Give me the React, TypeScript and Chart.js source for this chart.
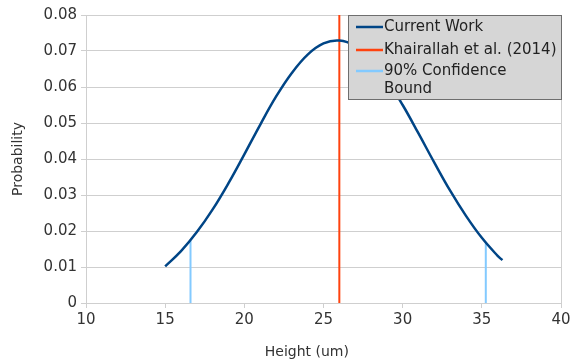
import React, { useEffect, useRef } from "react";
import { Chart, registerables } from "chart.js";

Chart.register(...registerables);

const curveX = [15, 16, 17, 18, 19, 20, 21, 22, 23, 24, 25, 26, 27, 28, 29, 30, 31, 32, 33, 34, 35, 36, 36.3];
const curveY = [0.0102, 0.0144, 0.0197, 0.026, 0.0333, 0.0413, 0.0495, 0.0573, 0.0639, 0.069, 0.0721, 0.0729, 0.0714, 0.0677, 0.062, 0.055, 0.0471, 0.039, 0.0312, 0.0242, 0.0181, 0.0131, 0.0119];
const refX = [26.0, 26.0];
const refY = [0, 0.08];
const boundX = [16.6, 16.6, 35.25, 35.25];
const boundY = [0, 0.0172, 0, 0.0166];
const seriesLabels = ["Current Work", "Khairallah et al. (2014)", "90% Confidence Bound"];
const legendLines = [["Current Work"], ["Khairallah et al. (2014)"], ["90% Confidence", "Bound"]];
const xTicks = [10, 15, 20, 25, 30, 35, 40];
const yTickLabels = ["0", "0.01", "0.02", "0.03", "0.04", "0.05", "0.06", "0.07", "0.08"];
const xTitle = "Height (um)";
const yTitle = "Probability";

const BLUE = "#004586";
const RED = "#ff420e";
const LIGHT = "#83caff";
const GRID = "#cfcfcf";
const TEXT = "#333333";

const legendPlugin = {
  id: "insetLegend",
  afterDatasetsDraw(chart: any) {
    const { ctx, chartArea } = chart;
    const x0 = chartArea.right - 213;
    const y0 = chartArea.top;
    const w = 214;
    const h = 85;
    ctx.save();
    ctx.fillStyle = "#d6d6d6";
    ctx.fillRect(x0, y0, w, h);
    ctx.strokeStyle = "#6e6e6e";
    ctx.lineWidth = 1;
    ctx.strokeRect(x0 + 0.5, y0 + 0.5, w - 1, h - 1);
    ctx.font = "15px 'DejaVu Sans'";
    ctx.textBaseline = "middle";
    ctx.textAlign = "left";
    const rows = [12, 35, 56];
    chart.data.datasets.forEach((ds: any, i: number) => {
      const ry = y0 + rows[i];
      ctx.strokeStyle = ds.borderColor;
      ctx.lineWidth = 2.5;
      ctx.beginPath();
      ctx.moveTo(x0 + 8, ry);
      ctx.lineTo(x0 + 35, ry);
      ctx.stroke();
      ctx.fillStyle = "#222222";
      legendLines[i].forEach((t, j) => {
        ctx.fillText(t, x0 + 36, ry + j * 18);
      });
    });
    // x axis title, placed as in the original (slightly left of centre)
    ctx.fillStyle = TEXT;
    ctx.font = "14px 'DejaVu Sans'";
    ctx.textAlign = "center";
    ctx.textBaseline = "middle";
    const cx = chartArea.left + (chartArea.right - chartArea.left) * 0.465;
    ctx.fillText(xTitle, cx, 352);
    ctx.restore();
  },
};

export default function App() {
  const ref = useRef<HTMLCanvasElement>(null);
  useEffect(() => {
    if (!ref.current) return;
    Chart.defaults.font.family = "'DejaVu Sans'";
    const curve = curveX.map((x, i) => ({ x, y: curveY[i] }));
    const refLine = refX.map((x, i) => ({ x, y: refY[i] }));
    const bounds: any[] = [
      { x: boundX[0], y: boundY[0] },
      { x: boundX[1], y: boundY[1] },
      { x: (boundX[1] + boundX[2]) / 2, y: null },
      { x: boundX[2], y: boundY[2] },
      { x: boundX[3], y: boundY[3] },
    ];
    const chart = new Chart(ref.current, {
      type: "line",
      data: {
        datasets: [
          { label: seriesLabels[0], data: curve, borderColor: BLUE, borderWidth: 2.5, pointRadius: 0, tension: 0.4, fill: false },
          { label: seriesLabels[1], data: refLine, borderColor: RED, borderWidth: 2, pointRadius: 0, fill: false },
          { label: seriesLabels[2], data: bounds, borderColor: LIGHT, borderWidth: 2, pointRadius: 0, spanGaps: false, fill: false },
        ],
      },
      options: {
        animation: false,
        responsive: false,
        layout: { padding: { top: 15, right: 10, left: 0, bottom: 0 } },
        plugins: { legend: { display: false }, tooltip: { enabled: false } },
        scales: {
          x: {
            type: "linear",
            min: 10,
            max: 40,
            afterBuildTicks: (s: any) => {
              s.ticks = xTicks.map((v) => ({ value: v }));
            },
            afterFit: (s: any) => {
              s.height = 61;
              s.paddingRight = 0;
              s.paddingLeft = 0;
            },
            ticks: { color: TEXT, font: { size: 15 }, padding: 3, maxRotation: 0, callback: (v: any) => String(v) },
            grid: {
              color: (c: any) => (c.tick && c.tick.value === 40 ? GRID : "rgba(0,0,0,0)"),
              tickColor: GRID,
              tickLength: 5,
            },
            border: { color: GRID },
            title: { display: false, text: xTitle },
          },
          y: {
            min: 0,
            max: 0.08,
            afterBuildTicks: (s: any) => {
              s.ticks = yTickLabels.map((_, i) => ({ value: i * 0.01 }));
            },
            afterFit: (s: any) => {
              s.width = 86;
              s.paddingTop = 0;
              s.paddingBottom = 0;
            },
            ticks: { color: TEXT, font: { size: 15 }, padding: 4, callback: (_v: any, i: number) => yTickLabels[i] },
            grid: { color: GRID, tickColor: GRID, tickLength: 5 },
            border: { color: GRID },
            title: { display: true, text: yTitle, color: TEXT, font: { size: 14 }, padding: { top: 10, bottom: 0 } },
          },
        },
      },
      plugins: [legendPlugin],
    });
    return () => chart.destroy();
  }, []);
  return (
    <div style={{ position: "absolute", left: 0, top: 0, width: 571, height: 364, background: "#fff" }}>
      <canvas ref={ref} width={571} height={364} style={{ width: 571, height: 364 }} />
    </div>
  );
}
